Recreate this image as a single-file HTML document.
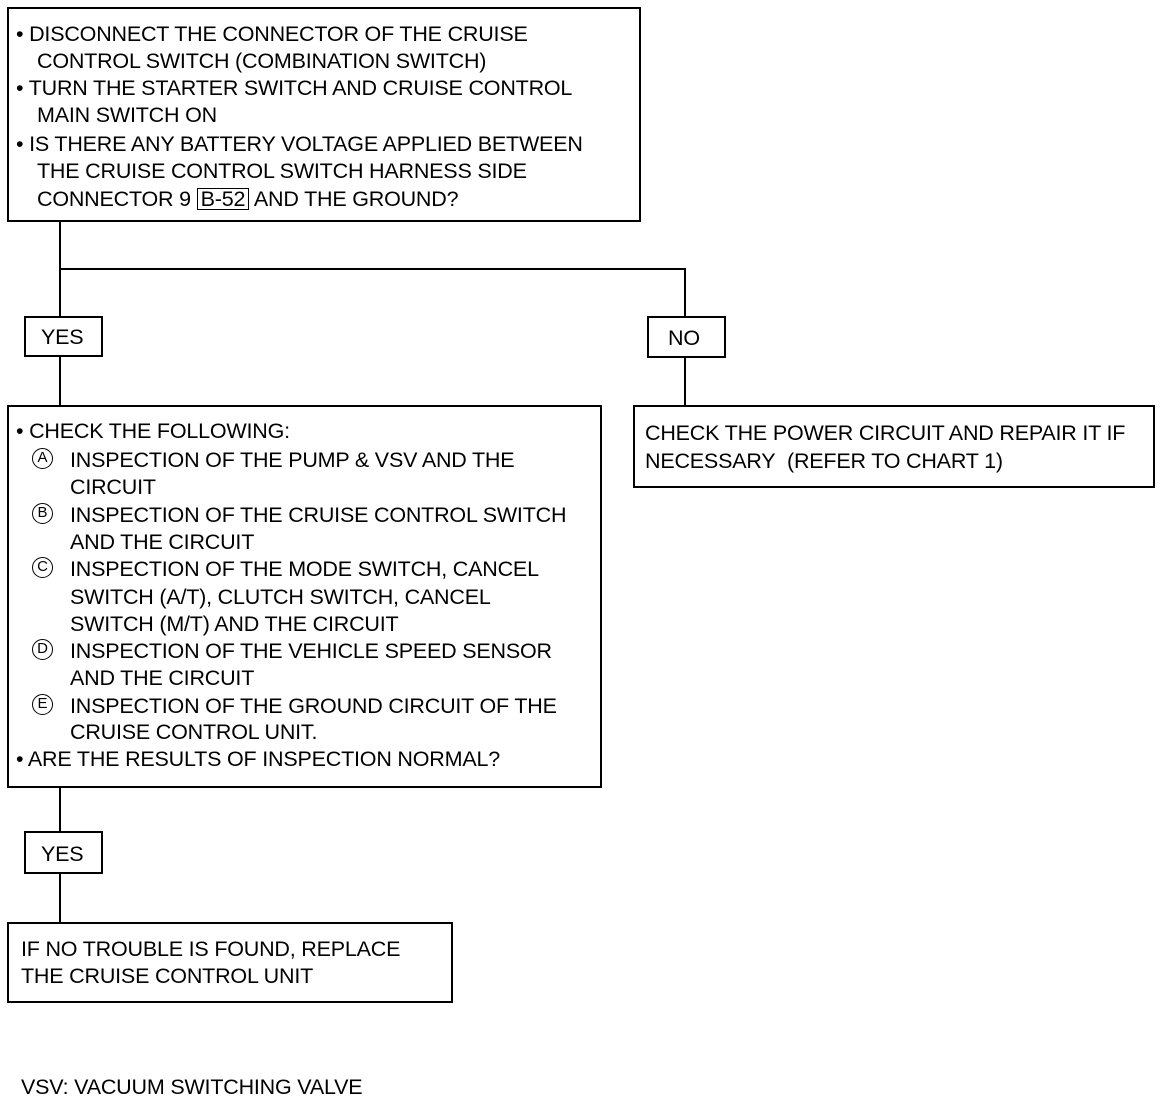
<!DOCTYPE html>
<html><head><meta charset="utf-8"><style>
body{margin:0;width:1168px;height:1102px;background:#fff;position:relative;overflow:hidden;font-family:"Liberation Sans",Arial,sans-serif;color:#000}
.b{position:absolute;border:2px solid #000;box-sizing:border-box}
.l{position:absolute;background:#000}
.t{position:absolute;font-size:21.5px;line-height:24px;white-space:nowrap;letter-spacing:-0.2px}
.c{position:absolute;width:21px;height:21px;border:1.5px solid #000;border-radius:50%;box-sizing:border-box;font-size:15px;line-height:18px;text-align:center}
.k{display:inline-block;border:1.5px solid #000;padding:0 3px;line-height:20px}
</style></head><body>
<div class="b" style="left:7px;top:7px;width:634px;height:215px"></div>
<div class="t" style="left:16px;top:22px">• DISCONNECT THE CONNECTOR OF THE CRUISE</div>
<div class="t" style="left:37px;top:49px">CONTROL SWITCH (COMBINATION SWITCH)</div>
<div class="t" style="left:16px;top:76px">• TURN THE STARTER SWITCH AND CRUISE CONTROL</div>
<div class="t" style="left:37px;top:103px">MAIN SWITCH ON</div>
<div class="t" style="left:16px;top:132px">• IS THERE ANY BATTERY VOLTAGE APPLIED BETWEEN</div>
<div class="t" style="left:37px;top:159px">THE CRUISE CONTROL SWITCH HARNESS SIDE</div>
<div class="t" style="left:37px;top:187px">CONNECTOR 9 <span class="k">B-52</span> AND THE GROUND?</div>

<div class="l" style="left:59px;top:222px;width:2px;height:94px"></div>
<div class="l" style="left:59px;top:268px;width:627px;height:2px"></div>
<div class="l" style="left:684px;top:268px;width:2px;height:48px"></div>
<div class="b" style="left:24px;top:316px;width:79px;height:41px"></div>
<div class="t" style="left:41px;top:325px">YES</div>
<div class="l" style="left:59px;top:357px;width:2px;height:49px"></div>
<div class="b" style="left:647px;top:316px;width:79px;height:42px"></div>
<div class="t" style="left:668px;top:326px">NO</div>
<div class="l" style="left:684px;top:358px;width:2px;height:48px"></div>

<div class="b" style="left:633px;top:405px;width:522px;height:83px"></div>
<div class="t" style="left:645px;top:421px">CHECK THE POWER CIRCUIT AND REPAIR IT IF</div>
<div class="t" style="left:645px;top:449px">NECESSARY&nbsp; (REFER TO CHART 1)</div>

<div class="b" style="left:7px;top:405px;width:595px;height:383px"></div>
<div class="t" style="left:16px;top:419px">• CHECK THE FOLLOWING:</div>
<div class="c" style="left:32px;top:448px">A</div>
<div class="t" style="left:70px;top:448px">INSPECTION OF THE PUMP &amp; VSV AND THE</div>
<div class="t" style="left:70px;top:475px">CIRCUIT</div>
<div class="c" style="left:32px;top:503px">B</div>
<div class="t" style="left:70px;top:503px">INSPECTION OF THE CRUISE CONTROL SWITCH</div>
<div class="t" style="left:70px;top:530px">AND THE CIRCUIT</div>
<div class="c" style="left:32px;top:557px">C</div>
<div class="t" style="left:70px;top:557px">INSPECTION OF THE MODE SWITCH, CANCEL</div>
<div class="t" style="left:70px;top:585px">SWITCH (A/T), CLUTCH SWITCH, CANCEL</div>
<div class="t" style="left:70px;top:612px">SWITCH (M/T) AND THE CIRCUIT</div>
<div class="c" style="left:32px;top:639px">D</div>
<div class="t" style="left:70px;top:639px">INSPECTION OF THE VEHICLE SPEED SENSOR</div>
<div class="t" style="left:70px;top:666px">AND THE CIRCUIT</div>
<div class="c" style="left:32px;top:694px">E</div>
<div class="t" style="left:70px;top:694px">INSPECTION OF THE GROUND CIRCUIT OF THE</div>
<div class="t" style="left:70px;top:720px">CRUISE CONTROL UNIT.</div>
<div class="t" style="left:16px;top:747px">• ARE THE RESULTS OF INSPECTION NORMAL?</div>

<div class="l" style="left:59px;top:788px;width:2px;height:44px"></div>
<div class="b" style="left:24px;top:831px;width:79px;height:43px"></div>
<div class="t" style="left:41px;top:842px">YES</div>
<div class="l" style="left:59px;top:874px;width:2px;height:48px"></div>

<div class="b" style="left:7px;top:922px;width:446px;height:81px"></div>
<div class="t" style="left:21px;top:937px">IF NO TROUBLE IS FOUND, REPLACE</div>
<div class="t" style="left:21px;top:964px">THE CRUISE CONTROL UNIT</div>

<div class="t" style="left:21px;top:1075px">VSV: VACUUM SWITCHING VALVE</div>
</body></html>
